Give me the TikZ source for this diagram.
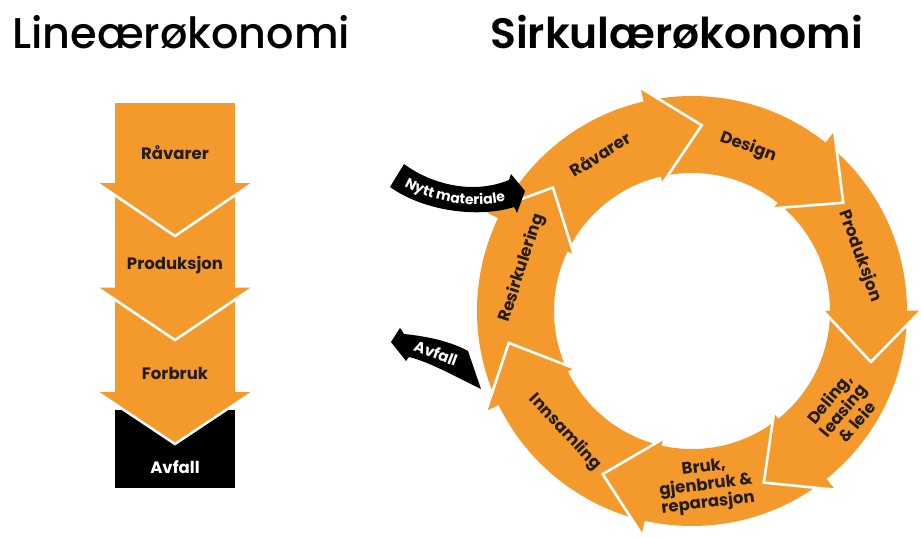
\documentclass[tikz,border=0pt]{standalone}
\usepackage{fontspec}
\setmainfont{Poppins}[UprightFont={* Medium},BoldFont={* SemiBold}]
\newfontfamily\lblfont{Poppins}[UprightFont={* SemiBold},BoldFont={* Bold}]
\usetikzlibrary{decorations.text}
\definecolor{orng}{RGB}{244,154,44}
\definecolor{ink}{RGB}{35,28,24}
\tikzset{
  lbl/.style={font=\lblfont\bfseries\fontsize{16.5}{18}\selectfont, text=ink, align=center, inner sep=0pt},
  wlbl/.style={font=\lblfont\bfseries\fontsize{16.5}{18}\selectfont, text=white, align=center, inner sep=0pt},
  ttl/.style={font=\fontsize{43}{43}\selectfont, text=black, anchor=base west, inner sep=0pt},
  sep/.style={white, line width=2.6pt, line join=miter, miter limit=20},
}
\begin{document}
\begin{tikzpicture}[x=1pt,y=1pt]
\useasboundingbox (0,0) rectangle (921,-538);
% titles
\node[ttl] (t1) at (12,-48) {Lineærøkonomi};
\node[ttl, font=\bfseries\fontsize{42.5}{43}\selectfont] (t2) at (490,-48) {Sirkulærøkonomi};

% ---- linear economy column ----
\fill[orng] (115,-103) rectangle (235,-392);
\fill[black] (115,-410) rectangle (235,-488);
\foreach \b/\tp in {183/236, 287.5/340, 392/444} {
  \fill[orng] (97,-\b) -- (253,-\b) -- (175,-\tp) -- cycle;
  \draw[sep] (97,-\b) -- (175,-\tp) -- (253,-\b);
}
\node[lbl] (l1) at (175,-153) {Råvarer};
\node[lbl] (l2) at (175,-265) {Produksjon};
\node[lbl] (l3) at (175,-373) {Forbruk};
\node[wlbl] (l4) at (175,-467) {Avfall};

% ---- circular economy ring ----
\begin{scope}[shift={(692,-311)}]
  \fill[orng, even odd rule] (0,0) circle[radius=215pt] (0,0) circle[radius=138pt];
  \foreach \t in {87, 35.6, -15.9, -67.3, -118.7, -170.1, 138.4} {
    \fill[orng] (\t+16:229pt) -- (\t:186pt) -- (\t+16:131pt) -- cycle;
    \draw[sep] (\t+16:229pt) -- (\t:186pt) -- (\t+16:131pt);
  }
\end{scope}
\node[lbl, rotate=32] (c1) at (600,-154) {Råvarer};
\node[lbl, rotate=-20] (c2) at (748,-147) {Design};
\node[lbl, rotate=-70] (c3) at (860,-256) {Produksjon};
\node[lbl, rotate=50] (c4) at (843,-410) {Deling,\\leasing\\\& leie};
\node[lbl, rotate=7] (c5) at (706,-486) {Bruk,\\gjenbruk \&\\reparasjon};
\node[lbl, rotate=-47] (c6) at (565,-432) {Innsamling};
\node[lbl, rotate=72] (c7) at (522,-268) {Resirkulering};

% ---- Nytt materiale (in) ----
\fill[black] (404,-164) .. controls (428,-182) and (470,-196) .. (509,-180)
  -- (511,-174) -- (525,-191) -- (517,-213) -- (514,-207)
  .. controls (480,-218) and (425,-212) .. (390,-187) -- cycle;
\path[decorate, decoration={text along path, text align=center,
   text={|\lblfont\bfseries\fontsize{14}{14}\selectfont\color{white}|Nytt materiale}}]
  (396,-181) .. controls (425,-200) and (470,-212) .. (515,-199);

% ---- Avfall (out) ----
\fill[black] (391,-342) -- (400,-328) -- (404,-334)
  .. controls (425,-336) and (450,-341) .. (468,-351)
  -- (481,-389) .. controls (460,-379) and (430,-362) .. (409,-357)
  -- (406,-361) -- cycle;
\node[wlbl, font=\lblfont\bfseries\fontsize{15}{15}\selectfont, rotate=-21] (av) at (436,-353) {Avfall};
\end{tikzpicture}
\end{document}
